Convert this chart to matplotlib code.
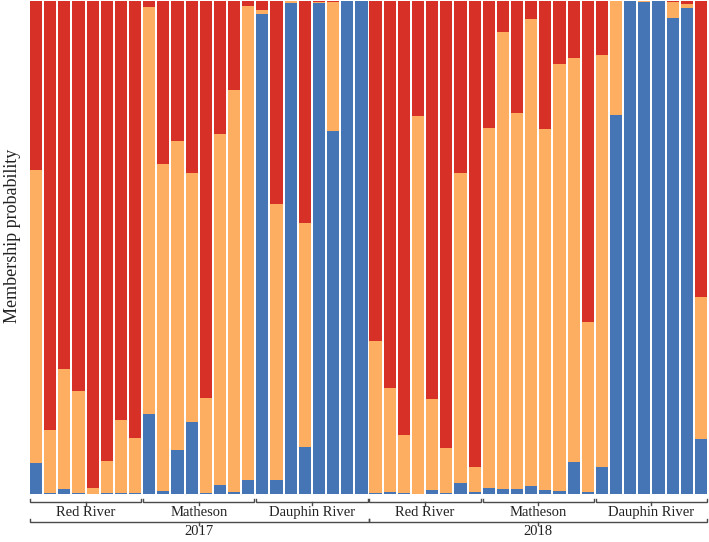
import matplotlib
matplotlib.use("Agg")
import matplotlib.pyplot as plt
import numpy as np

# Cluster membership per individual (blue, orange, red sum to 1)
years = ["2017", "2018"]
sites = ["Red River", "Matheson", "Dauphin River"]
n_per_group = 8

blue = [
    # 2017 Red River
    0.062, 0.002, 0.010, 0.002, 0.000, 0.002, 0.002, 0.002,
    # 2017 Matheson
    0.162, 0.006, 0.089, 0.146, 0.002, 0.019, 0.004, 0.029,
    # 2017 Dauphin River
    0.974, 0.028, 0.996, 0.096, 0.995, 0.736, 1.000, 1.000,
    # 2018 Red River
    0.002, 0.004, 0.002, 0.001, 0.008, 0.003, 0.022, 0.004,
    # 2018 Matheson
    0.013, 0.010, 0.010, 0.016, 0.008, 0.006, 0.064, 0.004,
    # 2018 Dauphin River
    0.054, 0.768, 1.000, 0.997, 1.000, 0.965, 0.985, 0.111,
]
orange = [
    # 2017 Red River
    0.595, 0.128, 0.243, 0.206, 0.012, 0.064, 0.149, 0.111,
    # 2017 Matheson
    0.825, 0.664, 0.628, 0.506, 0.192, 0.712, 0.816, 0.961,
    # 2017 Dauphin River
    0.008, 0.561, 0.003, 0.453, 0.003, 0.261, 0.000, 0.000,
    # 2018 Red River
    0.309, 0.211, 0.117, 0.765, 0.184, 0.091, 0.630, 0.050,
    # 2018 Matheson
    0.730, 0.927, 0.763, 0.948, 0.733, 0.867, 0.821, 0.345,
    # 2018 Dauphin River
    0.836, 0.231, 0.000, 0.002, 0.000, 0.033, 0.009, 0.288,
]
red = [max(0.0, 1.0 - b - o) for b, o in zip(blue, orange)]

c_blue = "#4575b4"
c_orange = "#fdae61"
c_red = "#d73027"

W, H = 709, 542
fig = plt.figure(figsize=(W / 100, H / 100), dpi=100)
left_px, right_px, top_px, bottom_px = 29, 708, 1, 494
ax = fig.add_axes([left_px / W, 1 - bottom_px / H,
                   (right_px - left_px) / W, (bottom_px - top_px) / H])

n = len(blue)
x = np.arange(n)
bw = 0.86
b = np.array(blue)
o = np.array(orange)
r = np.array(red)
ax.bar(x, b, width=bw, color=c_blue, linewidth=0)
ax.bar(x, o, width=bw, bottom=b, color=c_orange, linewidth=0)
ax.bar(x, r, width=bw, bottom=b + o, color=c_red, linewidth=0)
ax.set_xlim(-0.5, n - 0.5)
ax.set_ylim(0, 1)
ax.axis("off")

axh = bottom_px - top_px
def ypx(px_below):
    return -px_below / axh

trans = ax.get_xaxis_transform()
lc = "#4a4a4a"
lw = 1.0
serif = ["Liberation Serif", "DejaVu Serif"]

# group brackets
ng = len(years) * len(sites)
for g in range(ng):
    x0 = g * n_per_group - bw / 2
    x1 = (g + 1) * n_per_group - 1 + bw / 2
    yl = ypx(8)
    ax.plot([x0, x0, x1, x1], [ypx(4.5), yl, yl, ypx(4.5)], color=lc, lw=lw,
            transform=trans, clip_on=False, solid_joinstyle="miter")
    xm = (x0 + x1) / 2
    ax.plot([xm, xm], [yl, ypx(10.5)], color=lc, lw=lw, transform=trans, clip_on=False)
    ax.text(xm, ypx(18.5), sites[g % len(sites)], transform=trans, ha="center",
            va="center", fontsize=10.5, family=serif, color="#222222")

# year brackets
gsize = n_per_group * len(sites)
for yi, yr in enumerate(years):
    x0 = yi * gsize - 0.5 + (0.07 if yi == 0 else 0.0)
    x1 = (yi + 1) * gsize - 0.5 - (0.07 if yi == len(years) - 1 else 0.0)
    yl = ypx(28)
    ax.plot([x0, x0, x1, x1], [ypx(24.5), yl, yl, ypx(24.5)], color=lc, lw=lw,
            transform=trans, clip_on=False, solid_joinstyle="miter")
    xm = (x0 + x1) / 2
    ax.plot([xm, xm], [yl, ypx(30.5)], color=lc, lw=lw, transform=trans, clip_on=False)
    ax.text(xm, ypx(37.5), yr, transform=trans, ha="center", va="center",
            fontsize=10.5, family=serif, color="#222222")

fig.text(13 / W, 1 - 236 / H, "Membership probability", rotation=90,
         ha="center", va="center", fontsize=13, family=serif, color="#222222")

fig.savefig("out.png", dpi=100)
